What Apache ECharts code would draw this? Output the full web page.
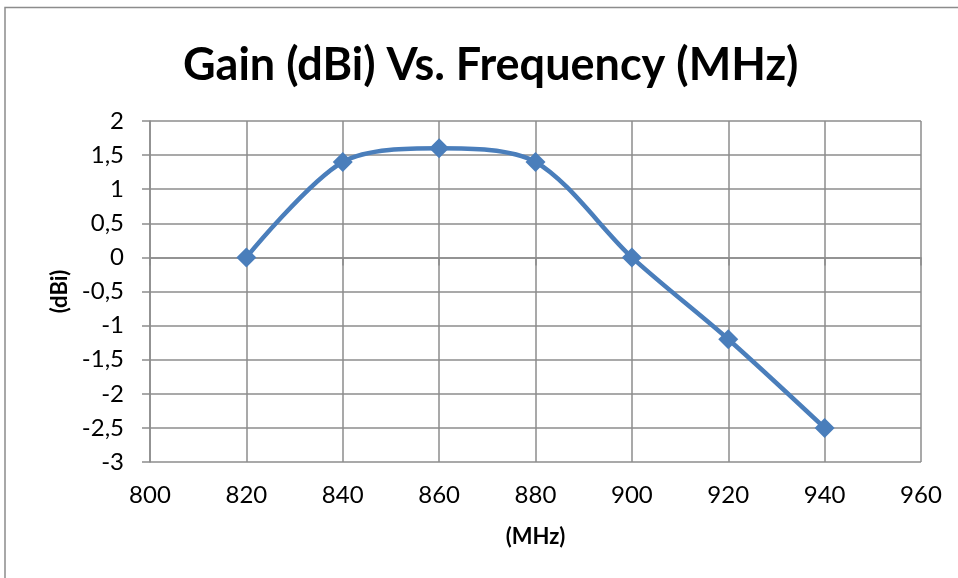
<!DOCTYPE html>
<html><head><meta charset="utf-8">
<script src="https://cdn.jsdelivr.net/npm/echarts@6/dist/echarts.min.js"></script>
<style>html,body{margin:0;padding:0;background:#fff}#c{width:958px;height:578px}</style>
</head><body><div id="c"></div>
<script>
const frequencies = [820, 840, 860, 880, 900, 920, 940];
const gains = [0, 1.4, 1.6, 1.4, 0, -1.2, -2.5];
const titleText = 'Gain (dBi) Vs. Frequency (MHz)';
const xName = '(MHz)';
const yName = '(dBi)';

const chart = echarts.init(document.getElementById('c'));
const font = 'Lato, "Open Sans", sans-serif';
chart.setOption({
  animation: false,
  backgroundColor: '#fff',
  graphic: [{
    type: 'polyline', silent: true,
    shape: { points: [[5, 578], [5, 7.5], [958, 7.5]] },
    style: { stroke: '#8c8c8c', lineWidth: 1.5, fill: null }
  }],
  title: {
    text: titleText, left: 178, top: 38,
    textStyle: { fontFamily: font, fontSize: 45, fontWeight: 'bold', color: '#000' }
  },
  grid: { left: 150, right: 37, top: 121, bottom: 116 },
  xAxis: {
    type: 'value', min: 800, max: 960, interval: 20,
    name: xName, nameLocation: 'middle', nameGap: 64,
    nameTextStyle: { fontFamily: font, fontSize: 22, fontWeight: 'bold', color: '#000' },
    axisLine: { show: true, lineStyle: { color: '#8c8c8c', width: 1.5 } },
    axisTick: { show: true, length: 8, inside: false, lineStyle: { color: '#8c8c8c', width: 1.5 } },
    axisLabel: { fontFamily: font, fontSize: 24, color: '#000', margin: 21 },
    splitLine: { show: true, lineStyle: { color: '#8c8c8c', width: 1.5 } }
  },
  yAxis: {
    type: 'value', min: -3, max: 2, interval: 0.5,
    name: yName, nameLocation: 'middle', nameGap: 73,
    nameTextStyle: { fontFamily: font, fontSize: 22, fontWeight: 'bold', color: '#000' },
    axisLine: { show: true, lineStyle: { color: '#8c8c8c', width: 1.5 } },
    axisTick: { show: true, length: 8, lineStyle: { color: '#8c8c8c', width: 1.5 } },
    axisLabel: { fontFamily: font, fontSize: 24, color: '#000', margin: 26,
      formatter: v => String(v).replace('.', ',') },
    splitLine: { show: true, lineStyle: { color: '#8c8c8c', width: 1.5 } }
  },
  series: [{
    type: 'line',
    data: frequencies.map((f, i) => [f, gains[i]]),
    smooth: 0.3,
    smoothConstraint: false,
    symbol: 'diamond', symbolSize: 20,
    lineStyle: { color: '#4a7ebb', width: 4.5 },
    itemStyle: { color: '#4a7ebb' }
  }]
});
</script></body></html>
